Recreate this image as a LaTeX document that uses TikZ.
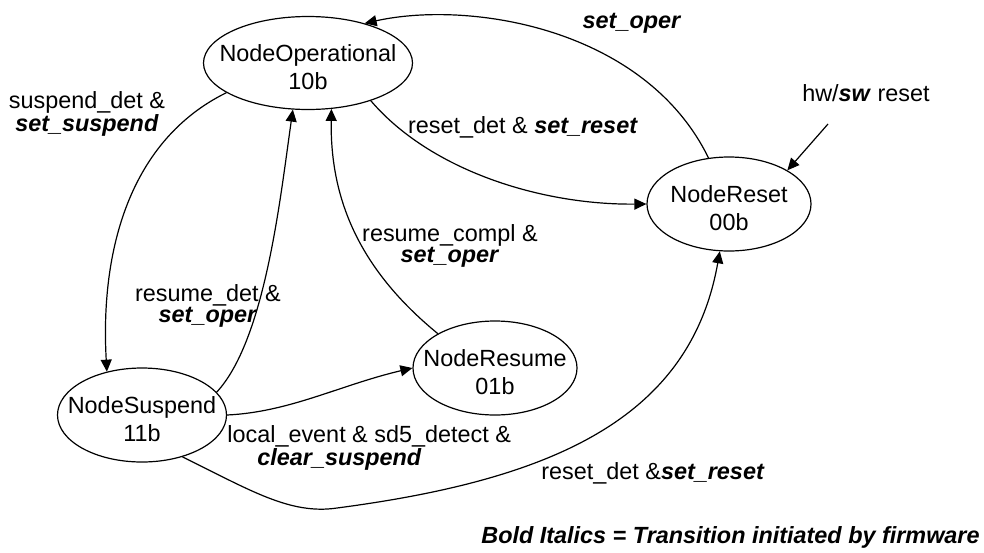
\documentclass[tikz,border=0pt]{standalone}
\usepackage{fontspec}
\setmainfont{Liberation Sans}
\usepackage{tikz}
\usetikzlibrary{arrows.meta,shapes.geometric}
\newcommand{\fw}[1]{\textbf{\textit{#1}}}
\newcommand{\statetext}[2]{\makebox[0pt]{\raisebox{-6.5pt}[0pt][0pt]{\begin{tabular}{@{}c@{}}#1\\#2\end{tabular}}}}

\begin{document}
\begin{tikzpicture}[x=0.5pt,y=-0.5pt,
  state/.style={draw, ellipse, inner sep=0pt, line width=0.6pt, font=\fontsize{11.7}{14}\selectfont},
  trans/.style={line width=0.6pt, -{Triangle[length=6pt,width=5.5pt]}},
  lbl/.style={inner sep=0pt, align=center, font=\fontsize{11.7}{10.5}\selectfont}]
\useasboundingbox (0,0) rectangle (984,552);
\node[state, minimum width=104.5pt, minimum height=46.5pt] (op) at (308,63) {\statetext{NodeOperational}{10b}};
\node[state, minimum width=82pt, minimum height=47pt] (rst) at (729,204) {\statetext{NodeReset}{00b}};
\node[state, minimum width=84.5pt, minimum height=47pt] (sus) at (142,415) {\statetext{NodeSuspend}{11b}};
\node[state, minimum width=82pt, minimum height=47pt] (res) at (495,368) {\statetext{NodeResume}{01b}};
\coordinate (hwsrc) at (828,124);
\draw[trans] (rst.114) .. controls (645,28) and (470,0) .. (op.35);
\draw[trans] (op.-31) .. controls (430,170) and (540,205) .. (rst.180);
\draw[trans] (hwsrc) -- (rst.30);
\draw[trans] (op.200) .. controls (130,140) and (100,250) .. (sus.129);
\draw[trans] (sus.17) .. controls (265,340) and (280,200) .. (op.252);
\draw[trans] (res.149) .. controls (360,270) and (330,200) .. (op.297);
\draw[trans] (sus.0) .. controls (290,412) and (340,385) .. (res.180);
\draw[trans] (sus.314) .. controls (250,490) and (290,515) .. (337,508) .. controls (550,480) and (690,420) .. (rst.259);
\node[lbl] (lblsetoper) at (632,23) {\fw{set\_oper}};
\node[lbl] (lblhw) at (866,93) {hw/\fw{sw} reset};
\node[lbl] (lblrstdet) at (523,127) {reset\_det \& \fw{set\_reset}};
\node[lbl] (lblsusdet) at (87,114) {suspend\_det \&\\\fw{set\_suspend}};
\node[lbl] (lblrescompl) at (450,246) {resume\_compl \&\\\fw{set\_oper}};
\node[lbl] (lblresdet) at (208,306) {resume\_det \&\\\fw{set\_oper}};
\node[lbl, align=left, anchor=west] (lbllocal) at (227,448) {local\_event \& sd5\_detect \&\\\hspace*{15pt}\fw{clear\_suspend}};
\node[lbl] (lblrstdet2) at (653,473) {reset\_det \&\fw{set\_reset}};
\node[lbl, anchor=east] (legend) at (980,537) {\fw{Bold Italics = Transition initiated by firmware}};
\end{tikzpicture}
\end{document}
